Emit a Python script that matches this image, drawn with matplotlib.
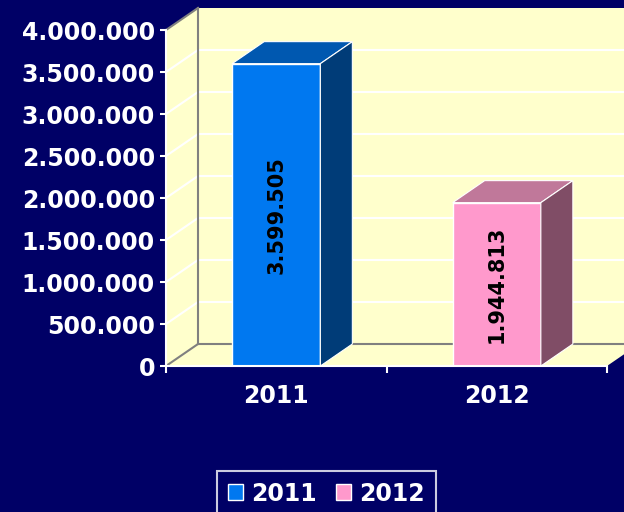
import matplotlib
matplotlib.use("Agg")
import matplotlib.pyplot as plt
from matplotlib.patches import Polygon, Rectangle

# ---- data ----
years = ['2011', '2012']
values = [3599505, 1944813]
value_labels = ['3.599.505', '1.944.813']
yticks = [0, 500000, 1000000, 1500000, 2000000, 2500000, 3000000, 3500000, 4000000]
ytick_labels = ['0', '500.000', '1.000.000', '1.500.000', '2.000.000',
                '2.500.000', '3.000.000', '3.500.000', '4.000.000']

# ---- style ----
BG = '#000066'
WALL = '#FFFFCC'
front_colors = ['#0078F0', '#FF99CC']
top_colors = ['#0058B0', '#C0789A']
side_colors = ['#003C78', '#804D66']
GRAY = '#808080'
FONT = 'DejaVu Sans'

W, H = 624, 512
fig = plt.figure(figsize=(W / 100, H / 100), dpi=100, facecolor=BG)
ax = fig.add_axes([166 / W, (H - 366) / H, (607 - 166) / W, 336 / H])
ax.patch.set_visible(False)
ymax = yticks[-1]
xmin, xmax = -0.5, len(years) - 0.5
ax.set_xlim(xmin, xmax)
ax.set_ylim(0, ymax)

# depth offsets (in data units) of the pseudo-3D box
DX = 32 / 441 * (xmax - xmin)
DY = 22 / 336 * ymax

# walls
ax.add_patch(Polygon([(xmin + DX, DY), (xmax + DX, DY), (xmax + DX, ymax + DY), (xmin + DX, ymax + DY)],
                     closed=True, facecolor=WALL, edgecolor='none', clip_on=False, zorder=0))
ax.add_patch(Polygon([(xmin, 0), (xmin + DX, DY), (xmin + DX, ymax + DY), (xmin, ymax)],
                     closed=True, facecolor=WALL, edgecolor='none', clip_on=False, zorder=0))
ax.add_patch(Polygon([(xmin, 0), (xmax, 0), (xmax + DX, DY), (xmin + DX, DY)],
                     closed=True, facecolor=WALL, edgecolor='none', clip_on=False, zorder=0))

# gridlines
for t in yticks[1:-1]:
    ax.plot([xmin + DX, xmax + DX], [t + DY, t + DY], color='white', lw=1.5, clip_on=False, zorder=1)
    ax.plot([xmin, xmin + DX], [t, t + DY], color='white', lw=1.5, clip_on=False, zorder=1)
# gray edges
ax.plot([xmin + DX, xmin + DX], [DY, ymax + DY], color=GRAY, lw=1.5, clip_on=False, zorder=1)
ax.plot([xmin + DX, xmax + DX], [DY, DY], color=GRAY, lw=1.5, clip_on=False, zorder=1)
ax.plot([xmin, xmin + DX], [0, DY], color=GRAY, lw=1.5, clip_on=False, zorder=1)
ax.plot([xmin, xmin + DX], [ymax, ymax + DY], color=GRAY, lw=1.5, clip_on=False, zorder=1)

# bars
bw = 0.4
xs = list(range(len(years)))
ax.bar(xs, values, width=bw, color=front_colors, edgecolor='white', linewidth=1, zorder=3)
for i, v in enumerate(values):
    x0, x1 = i - bw / 2, i + bw / 2
    ax.add_patch(Polygon([(x0, v), (x1, v), (x1 + DX, v + DY), (x0 + DX, v + DY)], closed=True,
                         facecolor=top_colors[i], edgecolor='white', lw=0.8, clip_on=False, zorder=3))
    ax.add_patch(Polygon([(x1, 0), (x1 + DX, DY), (x1 + DX, v + DY), (x1, v)], closed=True,
                         facecolor=side_colors[i], edgecolor='white', lw=0.8, clip_on=False, zorder=3))
    ax.text(i, v / 2, value_labels[i], rotation=90, ha='center', va='center',
            color='black', fontsize=15, fontweight='bold', family=FONT, zorder=4)

# axes
for s in ['top', 'right']:
    ax.spines[s].set_visible(False)
for s in ['left', 'bottom']:
    ax.spines[s].set_color('white')
    ax.spines[s].set_linewidth(1.5)
    ax.spines[s].set_zorder(5)
ax.set_yticks(yticks)
ax.set_yticklabels(ytick_labels)
ax.tick_params(axis='y', colors='white', length=4, width=1.5, pad=4, labelsize=17)
ax.set_xticks([xmin + k for k in range(len(years) + 1)])
ax.set_xticklabels([])
ax.tick_params(axis='x', which='major', colors='white', length=5, width=1.5)
ax.set_xticks(xs, minor=True)
ax.set_xticklabels(years, minor=True)
ax.tick_params(axis='x', which='minor', length=0, colors='white', pad=13, labelsize=17)
for lab in ax.get_yticklabels() + ax.get_xticklabels(minor=True):
    lab.set_fontweight('bold')
    lab.set_family(FONT)

# legend
handles = [Rectangle((0, 0), 1, 1, facecolor=c, edgecolor='white', lw=1) for c in front_colors]
leg = fig.legend(handles, years, loc='upper center', bbox_to_anchor=(326.5 / W, (H - 471) / H),
                 ncol=2, frameon=True, fancybox=False, facecolor=BG, edgecolor='white',
                 prop={'family': FONT, 'weight': 'bold', 'size': 17},
                 handlelength=0.65, handleheight=0.65, handletextpad=0.35,
                 columnspacing=0.8, borderpad=0.45, borderaxespad=0)
leg.get_frame().set_linewidth(1.5)
for t in leg.get_texts():
    t.set_color('white')

fig.savefig('out.png', dpi=100, facecolor=BG)
